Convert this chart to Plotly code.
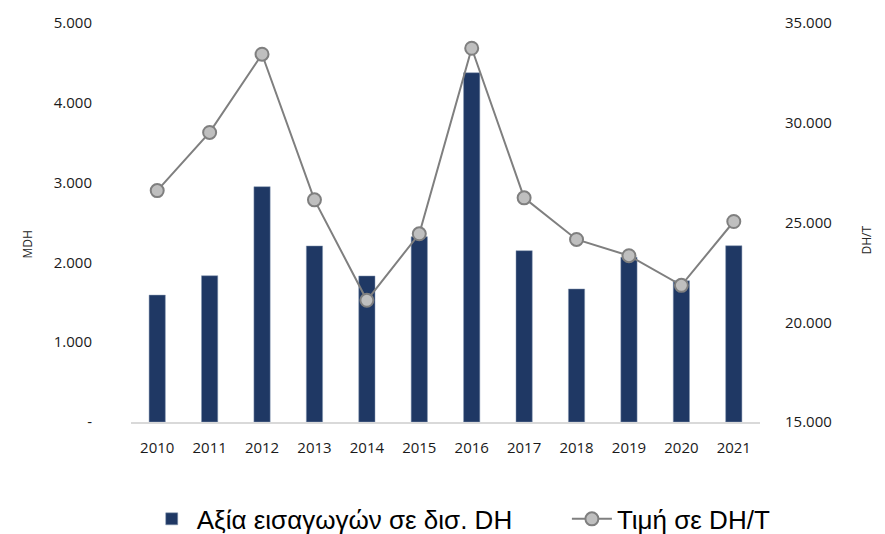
import plotly.graph_objects as go

years = ["2010", "2011", "2012", "2013", "2014", "2015", "2016", "2017", "2018", "2019", "2020", "2021"]
import_value = [1590, 1833, 2949, 2206, 1830, 2322, 4377, 2147, 1667, 2064, 1770, 2209]
price = [26600, 29515, 33435, 26135, 21100, 24435, 33735, 26235, 24150, 23335, 21850, 25050]

left_ticks = [0, 1000, 2000, 3000, 4000, 5000]
left_labels = ["-", "1.000", "2.000", "3.000", "4.000", "5.000"]
right_ticks = [15000, 20000, 25000, 30000, 35000]
right_labels = ["15.000", "20.000", "25.000", "30.000", "35.000"]

bar_name = "Αξία εισαγωγών σε δισ. DH"
line_name = "Τιμή σε DH/T"

tick_font = dict(family="Open Sans", size=15, color="#1a1a1a")
legend_font = dict(family="Liberation Sans", size=26, color="#000000")

fig = go.Figure()
fig.add_trace(go.Bar(
    x=years, y=import_value, name=bar_name,
    marker=dict(color="#1F3864", line=dict(color="#8496B0", width=0.5)),
    width=0.31, yaxis="y", legend="legend"))
fig.add_trace(go.Scatter(
    x=years, y=price, name=line_name, mode="lines+markers",
    line=dict(color="#7F7F7F", width=2),
    marker=dict(symbol="circle", size=13, color="#BFBFBF",
                line=dict(color="#7F7F7F", width=2)),
    yaxis="y2", legend="legend2"))

fig.update_layout(
    width=877, height=526,
    margin=dict(l=123, r=125, t=15, b=112, autoexpand=False),
    plot_bgcolor="white", paper_bgcolor="white",
    xaxis=dict(type="category", range=[-0.5, 11.5], showline=True,
               linecolor="#D9D9D9", linewidth=1.5,
               showgrid=False, ticks="", tickfont=tick_font, automargin=False,
               ticklabelstandoff=11),
    yaxis=dict(range=[0, 5000], tickvals=left_ticks, ticktext=left_labels,
               showgrid=False, zeroline=False, showline=False, ticks="",
               tickfont=tick_font, ticklabelstandoff=38, automargin=False),
    yaxis2=dict(range=[15000, 35000], tickvals=right_ticks, ticktext=right_labels,
                overlaying="y", side="right", showgrid=False, zeroline=False,
                showline=False, ticks="", tickfont=tick_font, ticklabelstandoff=24,
                automargin=False),
    legend=dict(orientation="h", x=0.025, xanchor="left", y=-0.243, yanchor="middle",
                font=legend_font, itemwidth=40, borderwidth=0, bgcolor="rgba(0,0,0,0)"),
    legend2=dict(orientation="h", x=0.693, xanchor="left", y=-0.243, yanchor="middle",
                 font=legend_font, itemwidth=40, borderwidth=0, bgcolor="rgba(0,0,0,0)"),
    showlegend=True,
    annotations=[
        dict(text="MDH", xref="paper", yref="paper", x=-0.181, y=0.444,
             showarrow=False, textangle=-90, font=dict(family="Open Sans", size=12, color="#262626")),
        dict(text="DH/T", xref="paper", yref="paper", x=1.186, y=0.456,
             showarrow=False, textangle=-90, font=dict(family="Open Sans", size=12, color="#262626")),
    ],
)

fig.write_html("out.html")
